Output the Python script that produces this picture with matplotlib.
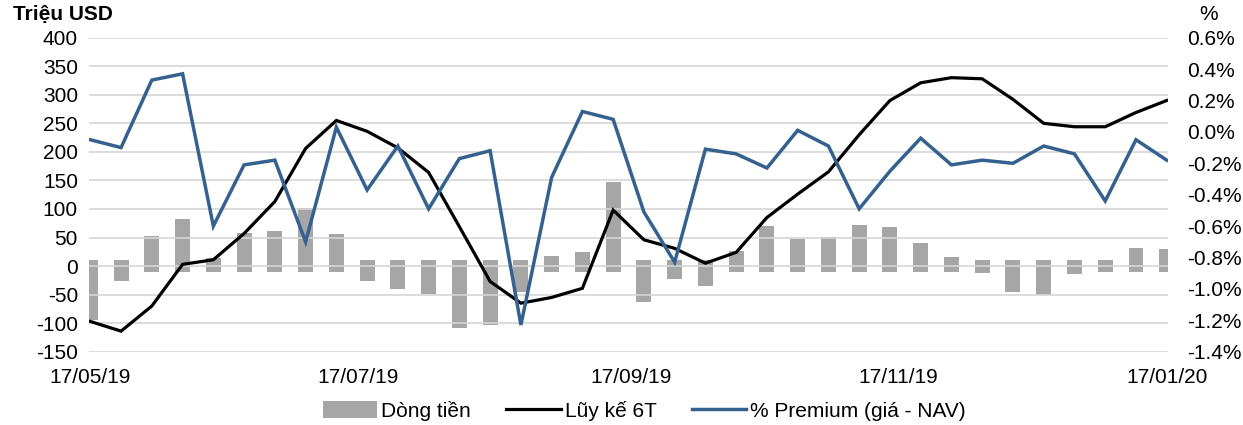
import numpy as np
import pandas as pd
import matplotlib
matplotlib.use("Agg")
import matplotlib.pyplot as plt
import matplotlib.dates as mdates
from matplotlib.ticker import FuncFormatter, MultipleLocator

plt.rcParams["font.family"] = ["Liberation Sans", "DejaVu Sans"]
plt.rcParams["axes.unicode_minus"] = False

# weekly data, 17/05/19 .. 17/01/20
start_date = "2019-05-17"
end_date = "2020-01-17"

# Dòng tiền (triệu USD)
flows = [-94, -26, 53, 82, 14, 58, 61, 102, 57, -27, -41, -49, -108, -103, -45, 18,
         25, 148, -63, -23, -35, 27, 71, 47, 51, 72, 69, 40, 16, -12, -45, -51,
         -14, 10, 31, 29]

# Lũy kế 6T (triệu USD)
cumulative = [-97, -114, -70, 3, 11, 57, 113, 206, 255, 236, 207, 164, 69, -27, -65, -55,
              -39, 98, 46, 31, 5, 24, 85, 126, 165, 230, 290, 321, 330, 328, 292, 250,
              244, 244, 269, 290]

# % Premium (giá - NAV)
premium = [-0.05, -0.10, 0.33, 0.37, -0.60, -0.21, -0.18, -0.70, 0.03, -0.37,
           -0.09, -0.49, -0.17, -0.12, -1.23, -0.29, 0.13, 0.08, -0.51, -0.83,
           -0.11, -0.14, -0.23, 0.01, -0.09, -0.49, -0.25, -0.04, -0.21, -0.18,
           -0.20, -0.09, -0.14, -0.44, -0.05, -0.18]

tick_dates = ["2019-05-17", "2019-07-17", "2019-09-17", "2019-11-17", "2020-01-17"]

series_labels = ["Dòng tiền", "Lũy kế 6T", "% Premium (giá - NAV)"]

BAR_COLOR = "#a6a6a6"
LINE_COLOR = "#000000"
PREMIUM_COLOR = "#35618f"
GRID_COLOR = "#d6d6d6"
FONT_SIZE = 15


def pct_format(v, pos):
    if abs(v) < 1e-9:
        v = 0.0
    return f"{v:.1f}%"


def plot_chart(plot_path):
    dates = pd.date_range(start_date, end_date, freq="7D")
    flows_arr = np.array(flows, dtype=float)
    # Excel-style bars: each bar starts a little past the zero line
    stub = np.where(flows_arr >= 0, -10.0, 10.0)

    fig = plt.figure(figsize=(12.43, 4.25), dpi=100)
    ax = fig.add_axes([0.0716, 0.1725, 0.8681, 0.7388])

    bars = ax.bar(dates, flows_arr - stub, bottom=stub, width=3.4,
                  color=BAR_COLOR, zorder=1, label=series_labels[0])
    line, = ax.plot(dates, cumulative, color=LINE_COLOR, lw=2.3, zorder=3,
                    solid_joinstyle="miter", label=series_labels[1])

    ax.set_ylim(-150, 400)
    ax.yaxis.set_major_locator(MultipleLocator(50))
    ax.set_axisbelow(False)
    ax.grid(axis="y", color=GRID_COLOR, lw=1.2, zorder=2)
    ax.set_xlim(pd.Timestamp(start_date) - pd.Timedelta(days=0.3),
                pd.Timestamp(end_date) + pd.Timedelta(days=0.3))
    ax.set_xticks(pd.to_datetime(tick_dates))
    ax.xaxis.set_major_formatter(mdates.DateFormatter("%d/%m/%y"))
    ax.tick_params(axis="both", length=0, labelsize=FONT_SIZE)
    ax.tick_params(axis="y", pad=8)
    ax.tick_params(axis="x", pad=12)

    ax2 = ax.twinx()
    line2, = ax2.plot(dates, premium, color=PREMIUM_COLOR, lw=2.5, zorder=4,
                      solid_joinstyle="miter", label=series_labels[2])
    ax2.set_ylim(-1.4, 0.6)
    ax2.yaxis.set_major_locator(MultipleLocator(0.2))
    ax2.yaxis.set_major_formatter(FuncFormatter(pct_format))
    ax2.tick_params(axis="y", length=0, labelsize=FONT_SIZE, pad=14)

    for a in (ax, ax2):
        for s in a.spines.values():
            s.set_visible(False)

    fig.text(0.0102, 0.965, "Triệu USD", fontsize=FONT_SIZE, fontweight="bold",
             ha="left", va="center")
    fig.text(0.9725, 0.965, "%", fontsize=FONT_SIZE, ha="center", va="center")

    fig.legend([bars, line, line2], series_labels, loc="center",
               bbox_to_anchor=(0.5185, 0.033), ncol=3, frameon=False,
               fontsize=FONT_SIZE, handlelength=2.6, handleheight=0.9,
               handletextpad=0.2, columnspacing=1.7)

    fig.savefig(plot_path, dpi=100)


def main():
    plot_chart("out.png")


if __name__ == "__main__":
    main()
